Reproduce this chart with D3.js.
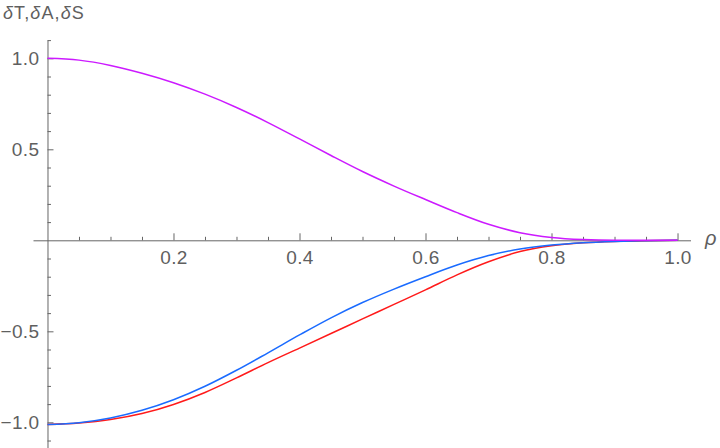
<!DOCTYPE html>
<html>
<head>
<meta charset="utf-8">
<script src="https://cdn.jsdelivr.net/npm/d3@7"></script>
<style>
  html, body { margin: 0; padding: 0; background: #fff; }
  svg { display: block; }
  text { font-family: "Liberation Sans", Arial, sans-serif; fill: #5f5f5f; }
</style>
</head>
<body>
<svg id="chart" width="720" height="448"></svg>
<script>
// ---- data ----
const rho = [0, 0.05, 0.1, 0.15, 0.2, 0.25, 0.3, 0.35, 0.4, 0.45, 0.5,
             0.55, 0.6, 0.65, 0.7, 0.75, 0.8, 0.85, 0.9, 0.95, 1.0];
const deltaT = [1.0, 0.990, 0.961, 0.918, 0.866, 0.803, 0.730, 0.647, 0.557, 0.466, 0.378,
                0.298, 0.224, 0.152, 0.088, 0.042, 0.016, 0.004, 0.0, 0.0, 0.0];
const deltaA = [-1.012, -1.002, -0.976, -0.934, -0.876, -0.802, -0.714, -0.618, -0.520, -0.426, -0.342,
                -0.268, -0.200, -0.136, -0.084, -0.048, -0.026, -0.013, -0.006, -0.002, 0.0];
const deltaS = [-1.012, -1.004, -0.985, -0.952, -0.902, -0.836, -0.756, -0.672, -0.592, -0.512, -0.432,
                -0.352, -0.272, -0.190, -0.118, -0.062, -0.030, -0.014, -0.006, -0.002, 0.0];
const xMajorTicks = [0.2, 0.4, 0.6, 0.8, 1.0];
const xMinorTicks = [0.05, 0.1, 0.15, 0.25, 0.3, 0.35, 0.45, 0.5, 0.55, 0.65, 0.7, 0.75, 0.85, 0.9, 0.95];
const yMajorTicks = [-1.0, -0.5, 0.5, 1.0];
const yMinorTicks = [-1.1, -0.9, -0.8, -0.7, -0.6, -0.4, -0.3, -0.2, -0.1,
                     0.1, 0.2, 0.3, 0.4, 0.6, 0.7, 0.8, 0.9, 1.1];
const seriesNames = ["δS", "δA", "δT"];
const seriesColors = ["#ff1a1a", "#1a6bff", "#cc1aff"];

// ---- chart ----
const svg = d3.select("#chart");
const x = d3.scaleLinear().domain([-0.023, 1.0206]).range([33, 690.5]);
const y = d3.scaleLinear().domain([-1.14, 1.1]).range([447.8, 40.1]);
const fmt = d3.format(".1f");
const tickFont = 19;

// x axis (ticks pointing up, labels below)
svg.append("g").attr("transform", `translate(0,${y(0)})`)
  .call(d3.axisBottom(x).tickValues(xMajorTicks).tickSizeInner(-7).tickSizeOuter(0)
        .tickPadding(10).tickFormat(fmt));
svg.append("g").attr("transform", `translate(0,${y(0)})`)
  .call(d3.axisBottom(x).tickValues(xMinorTicks).tickSizeInner(-3.5).tickSizeOuter(0).tickFormat(""))
  .select(".domain").remove();

// y axis (ticks pointing right, labels left)
svg.append("g").attr("transform", `translate(${x(0)},0)`)
  .call(d3.axisLeft(y).tickValues(yMajorTicks).tickSizeInner(-6).tickSizeOuter(0)
        .tickPadding(8).tickFormat(fmt));
svg.append("g").attr("transform", `translate(${x(0)},0)`)
  .call(d3.axisLeft(y).tickValues(yMinorTicks).tickSizeInner(-3.5).tickSizeOuter(0).tickFormat(""))
  .select(".domain").remove();

svg.selectAll(".domain, .tick line").attr("stroke", "#666").attr("stroke-width", 1);
svg.selectAll(".tick text").attr("font-size", tickFont).attr("fill", "#5f5f5f")
   .attr("font-family", "Liberation Sans, Arial, sans-serif").attr("letter-spacing", 0.4);

// curves
const series = [deltaS, deltaA, deltaT];
const line = d3.line().x(d => x(d[0])).y(d => y(d[1])).curve(d3.curveMonotoneX);
series.forEach((vals, i) => {
  svg.append("path")
    .datum(rho.map((r, j) => [r, vals[j]]))
    .attr("fill", "none")
    .attr("stroke", seriesColors[i])
    .attr("stroke-width", 1.5)
    .attr("d", line);
});

// axis labels
const yl = svg.append("text").attr("x", 3).attr("y", 19).attr("font-size", 18)
  .attr("letter-spacing", 1.1);
[["δ", true], ["T,", false], ["δ", true], ["A,", false], ["δ", true], ["S", false]].forEach(([t, it]) => {
  yl.append("tspan").text(t).attr("font-style", it ? "italic" : "normal");
});
svg.append("text").attr("x", 705).attr("y", 245).attr("font-size", 20)
   .attr("font-style", "italic").text("ρ");
</script>
</body>
</html>
